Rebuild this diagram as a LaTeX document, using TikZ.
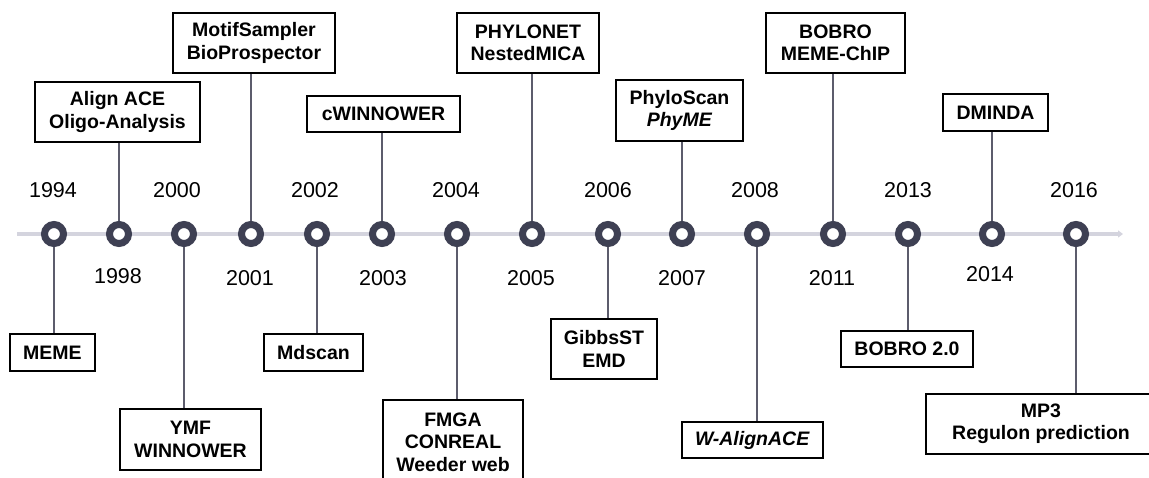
\documentclass[tikz,border=0pt]{standalone}
\usepackage{fontspec}
\setmainfont{Liberation Sans}
\usetikzlibrary{arrows.meta}
\definecolor{ringblue}{HTML}{3E4053}
\definecolor{axisgray}{HTML}{D4D4DE}
\definecolor{stemgray}{HTML}{5C5C6C}

\begin{document}
\begin{tikzpicture}[x=1pt, y=-1pt,
  tool/.style={draw, line width=1.1pt, fill=white, align=center, inner sep=0pt,
    font=\fontsize{19.5}{22.5}\selectfont\bfseries},
  year/.style={font=\fontsize{21.5}{24}\selectfont},
  ring/.style={circle, draw=ringblue, line width=7pt, fill=white, minimum size=19pt,
    inner sep=0pt, outer sep=3.5pt},
  stem/.style={draw=stemgray, line width=1.3pt}]
\useasboundingbox (0,0) rectangle (1149,478);
% time axis
\coordinate (axisstart) at (17,234);
\coordinate (axisend) at (1123,234);
\draw[axisgray, line width=3.5pt, -{Triangle[length=5pt,width=7pt]}] (axisstart) -- (axisend);
% years on the axis
\node[ring] (r1994) at (54,234) {};
\node[ring] (r1998) at (119,234) {};
\node[ring] (r2000) at (184,234) {};
\node[ring] (r2001) at (251,234) {};
\node[ring] (r2002) at (317,234) {};
\node[ring] (r2003) at (382,234) {};
\node[ring] (r2004) at (457,234) {};
\node[ring] (r2005) at (532,234) {};
\node[ring] (r2006) at (608,234) {};
\node[ring] (r2007) at (682,234) {};
\node[ring] (r2008) at (757,234) {};
\node[ring] (r2011) at (833,234) {};
\node[ring] (r2013) at (908,234) {};
\node[ring] (r2014) at (992,234) {};
\node[ring] (r2016) at (1076,234) {};
\node[year] (t1994) at (53,190) {1994};
\node[year] (t1998) at (118,276) {1998};
\node[year] (t2000) at (177,190) {2000};
\node[year] (t2001) at (250,278) {2001};
\node[year] (t2002) at (315,190) {2002};
\node[year] (t2003) at (383,278) {2003};
\node[year] (t2004) at (456,190) {2004};
\node[year] (t2005) at (531,278) {2005};
\node[year] (t2006) at (608,190) {2006};
\node[year] (t2007) at (682,278) {2007};
\node[year] (t2008) at (755,190) {2008};
\node[year] (t2011) at (832,278) {2011};
\node[year] (t2013) at (908,190) {2013};
\node[year] (t2014) at (990,274) {2014};
\node[year] (t2016) at (1074,190) {2016};
% tools above the axis
\node[tool, minimum width=165pt, minimum height=60pt] (alignace) at (117.5,112) {Align ACE\\Oligo-Analysis};
\node[tool, minimum width=162pt, minimum height=60pt] (motif) at (254,43) {MotifSampler\\BioProspector};
\node[tool, minimum width=153pt, minimum height=36pt] (cwinnower) at (383.5,114) {cWINNOWER};
\node[tool, minimum width=142pt, minimum height=60pt] (phylonet) at (528,43) {PHYLONET\\NestedMICA};
\node[tool, minimum width=127pt, minimum height=61pt] (phyloscan) at (679.5,110.5) {PhyloScan\\\textit{PhyME}};
\node[tool, minimum width=139pt, minimum height=60pt] (bobro) at (835.5,43) {BOBRO\\MEME-ChIP};
\node[tool, minimum width=105pt, minimum height=37pt] (dminda) at (995.5,112.5) {DMINDA};
% tools below the axis
\node[tool, minimum width=85pt, minimum height=37pt] (meme) at (52.5,352.5) {MEME};
\node[tool, minimum width=141pt, minimum height=61pt] (ymf) at (190.5,439.5) {YMF\\WINNOWER};
\node[tool, minimum width=99pt, minimum height=37pt] (mdscan) at (313.5,352.5) {Mdscan};
\node[tool, minimum width=140pt, minimum height=84pt] (fmga) at (453,442) {FMGA\\CONREAL\\Weeder web};
\node[tool, minimum width=106pt, minimum height=60pt] (gibbsst) at (604,349) {GibbsST\\EMD};
\node[tool, minimum width=141pt, minimum height=36pt] (walignace) at (752.5,440) {\textit{W-AlignACE}};
\node[tool, minimum width=132pt, minimum height=36pt] (bobro2) at (907,349) {BOBRO 2.0};
\node[tool, minimum width=230pt, minimum height=60pt] (mp3) at (1041,424) {MP3\\Regulon prediction};
% stems
\draw[stem] (r1998) -- (r1998 |- alignace.south);
\draw[stem] (r2001) -- (r2001 |- motif.south);
\draw[stem] (r2003) -- (r2003 |- cwinnower.south);
\draw[stem] (r2005) -- (r2005 |- phylonet.south);
\draw[stem] (r2007) -- (r2007 |- phyloscan.south);
\draw[stem] (r2011) -- (r2011 |- bobro.south);
\draw[stem] (r2014) -- (r2014 |- dminda.south);
\draw[stem] (r1994) -- (r1994 |- meme.north);
\draw[stem] (r2000) -- (r2000 |- ymf.north);
\draw[stem] (r2002) -- (r2002 |- mdscan.north);
\draw[stem] (r2004) -- (r2004 |- fmga.north);
\draw[stem] (r2006) -- (r2006 |- gibbsst.north);
\draw[stem] (r2008) -- (r2008 |- walignace.north);
\draw[stem] (r2013) -- (r2013 |- bobro2.north);
\draw[stem] (r2016) -- (r2016 |- mp3.north);
\end{tikzpicture}
\end{document}
